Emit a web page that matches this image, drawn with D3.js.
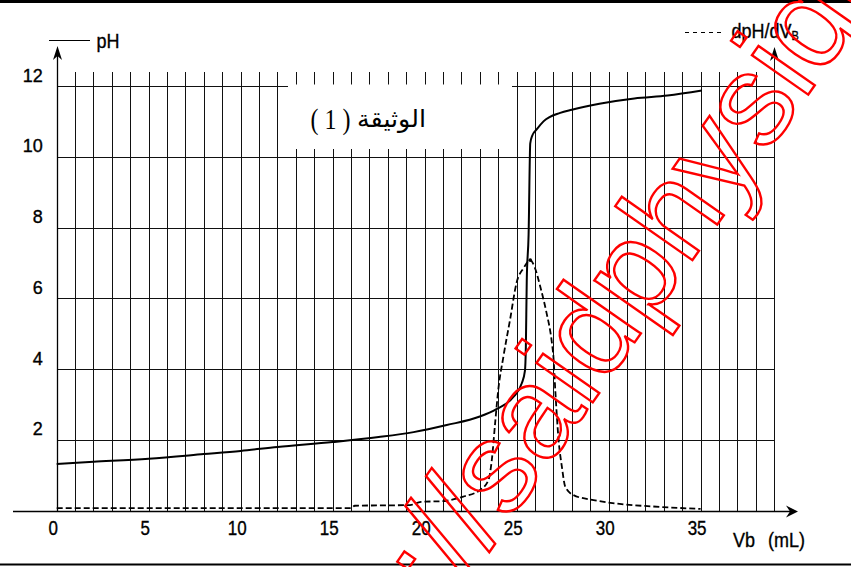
<!DOCTYPE html>
<html>
<head>
<meta charset="utf-8">
<script src="https://cdn.jsdelivr.net/npm/d3@7"></script>
<style>
  html, body { margin: 0; padding: 0; background: #fff; }
  svg { display: block; }
</style>
</head>
<body>
<svg id="chart" width="851" height="567"></svg>
<script>
// Titration of an acid by a base: volume of base added (mL) and measured pH
const phVolume = [0, 2, 5, 8, 10, 12, 15, 17.5, 19.4, 21.2, 23.0, 23.9, 24.8, 25.28, 25.45, 25.5, 25.55, 25.65, 25.74, 25.85, 26.1, 26.46, 27.37, 28.0, 29.5, 31.4, 33.2, 35.07];
const phValue  = [1.32, 1.38, 1.47, 1.6, 1.69, 1.8, 1.94, 2.08, 2.22, 2.42, 2.66, 2.87, 3.2, 3.6, 3.95, 4.6, 6.5, 7.8, 10.38, 10.6, 10.78, 11.0, 11.24, 11.33, 11.5, 11.65, 11.73, 11.87];

// Derivative dpH/dVb, same vertical graduation
const derivVolume = [0, 16.0, 16.2, 19.2, 19.8, 21.0, 22.1, 23.0, 23.47, 23.65, 23.83, 24.0, 24.28, 24.64, 25.0, 25.37, 25.74, 26.0, 26.3, 26.6, 26.92, 27.0, 27.1, 27.28, 27.46, 27.64, 28.09, 29.18, 30.6, 32.4, 35.0];
const derivValue  = [0.07, 0.07, 0.14, 0.16, 0.25, 0.27, 0.4, 0.58, 0.87, 1.43, 2.47, 3.41, 4.35, 5.39, 6.45, 6.85, 7.08, 6.85, 6.3, 5.65, 4.73, 4.35, 3.41, 2.0, 1.24, 0.68, 0.44, 0.3, 0.19, 0.12, 0.05];

const xTickValues = [0, 5, 10, 15, 20, 25, 30, 35];
const yTickValues = [2, 4, 6, 8, 10, 12];
const gridVolumes = d3.range(1, 40);
const gridPH = [2, 4, 6, 8, 10, 12];

const xTitleVar = "Vb";
const xTitleUnit = "(mL)";
const legendPH = "pH";
const legendDeriv = "dpH/dV";
const legendDerivSub = "B";
const docNumber = "( 1 )";
const docWord = "الوثيقة";
const markHead = "http://";
const markTail = "saidphysique";

const svg = d3.select("#chart");
const SANS = "'Liberation Sans', Arial, sans-serif";

const x = d3.scaleLinear().domain([0, 39]).range([56.7, 774.2]);
const y = d3.scaleLinear().domain([0, 12]).range([510.7, 86]);
const px = v => Math.round(x(v)) + 0.5;
const py = v => Math.round(y(v)) + 0.5;

// page rules top and bottom
svg.append("rect").attr("x", 0).attr("y", 0).attr("width", 851).attr("height", 3).attr("fill", "#000");
svg.append("rect").attr("x", 0).attr("y", 563.5).attr("width", 851).attr("height", 2).attr("fill", "#000");

// millimetric-style grid
const grid = svg.append("g").attr("stroke", "#111").attr("stroke-width", 1);
grid.selectAll("line.v").data(gridVolumes).join("line")
  .attr("x1", d => px(d)).attr("x2", d => px(d))
  .attr("y1", d => d === 39 ? 52 : 72).attr("y2", py(0));
grid.selectAll("line.h").data(gridPH).join("line")
  .attr("x1", px(0)).attr("x2", px(39))
  .attr("y1", d => py(d)).attr("y2", d => py(d));

// label panel on the grid
svg.append("rect").attr("x", 288).attr("y", 84.5).attr("width", 224).attr("height", 64.5).attr("fill", "#fff");

// axes lines and arrows
svg.append("line").attr("x1", px(0)).attr("x2", px(0)).attr("y1", 52).attr("y2", py(0))
  .attr("stroke", "#000").attr("stroke-width", 1.3);
svg.append("line").attr("x1", 13).attr("x2", 792).attr("y1", py(0)).attr("y2", py(0))
  .attr("stroke", "#000").attr("stroke-width", 1.3);
function arrowUp(cx, tip) {
  svg.append("path").attr("d", `M${cx},${tip} L${cx + 4.5},${tip + 14} L${cx},${tip + 10} L${cx - 4.5},${tip + 14} Z`).attr("fill", "#000");
}
arrowUp(px(0), 46);
arrowUp(px(39), 47);
const ax0 = py(0);
svg.append("path").attr("d", `M798,${ax0} L786,${ax0 - 6} L790,${ax0} L786,${ax0 + 6} Z`).attr("fill", "#000");

// curves
const line = d3.line().x(d => x(d[0])).y(d => y(d[1])).curve(d3.curveMonotoneX);
svg.append("path").datum(derivVolume.map((v, i) => [v, derivValue[i]]))
  .attr("d", line).attr("fill", "none").attr("stroke", "#000").attr("stroke-width", 1.8)
  .attr("stroke-dasharray", "6,3");
svg.append("path").datum(phVolume.map((v, i) => [v, phValue[i]]))
  .attr("d", line).attr("fill", "none").attr("stroke", "#000").attr("stroke-width", 2);
svg.append("circle").attr("cx", x(25.74)).attr("cy", y(7.08)).attr("r", 1.8).attr("fill", "#000");

// tick labels
const gy = svg.append("g").attr("transform", `translate(${x(0)},0)`)
  .call(d3.axisLeft(y).tickValues(yTickValues).tickSize(0).tickPadding(14));
gy.select(".domain").remove();
gy.attr("font-family", SANS).attr("font-size", 18);
gy.selectAll("text").attr("fill", "#000").attr("stroke", "#000").attr("stroke-width", 0.35)
  .attr("dy", null).attr("y", -5);

const gx = svg.append("g").attr("transform", `translate(-4,${y(0)})`)
  .call(d3.axisBottom(x).tickValues(xTickValues).tickSize(0).tickPadding(0));
gx.select(".domain").remove();
gx.attr("font-family", SANS).attr("font-size", 17);
gx.selectAll("text").attr("fill", "#000").attr("stroke", "#000").attr("stroke-width", 0.3)
  .attr("y", null).attr("dy", null)
  .attr("transform", "translate(0,24) scale(1,1.18)");

function stretched(tx, ty, sy, str, size, anchor) {
  return svg.append("text").attr("transform", `translate(${tx},${ty}) scale(1,${sy})`)
    .attr("font-family", SANS).attr("font-size", size).attr("text-anchor", anchor || "start")
    .attr("fill", "#000").attr("stroke", "#000").attr("stroke-width", 0.3).text(str);
}
stretched(733, 547, 1.15, xTitleVar, 18);
stretched(768, 547, 1.15, xTitleUnit, 18);

// legends
svg.append("line").attr("x1", 49).attr("x2", 90).attr("y1", 40.5).attr("y2", 40.5)
  .attr("stroke", "#000").attr("stroke-width", 1.2);
stretched(96.5, 48, 1.15, legendPH, 18);
svg.append("line").attr("x1", 685).attr("x2", 724).attr("y1", 32.5).attr("y2", 32.5)
  .attr("stroke", "#000").attr("stroke-width", 1.2).attr("stroke-dasharray", "4,4");
const dl = stretched(731.5, 37.5, 1.08, legendDeriv, 18);
dl.append("tspan").attr("font-size", 11).attr("dy", 2.5).text(legendDerivSub);

// document label
svg.append("text").attr("transform", "translate(310.5,129) scale(1,1.25)")
  .attr("font-family", "'Liberation Serif', 'Times New Roman', serif").attr("font-size", 24)
  .attr("fill", "#000").text(docNumber);
const word = svg.append("text")
  .attr("font-family", "'DejaVu Sans', sans-serif").attr("font-size", 20)
  .attr("fill", "#000").text(docWord);
const wb = word.node().getBBox();
word.attr("transform", `translate(${357 - wb.x * 69 / wb.width},127) scale(${69 / wb.width},1.2)`);

// watermark
const mark = svg.append("g").attr("transform", "translate(509,522) rotate(-55)")
  .attr("font-family", SANS).attr("font-size", 130)
  .attr("fill", "none").attr("stroke", "#ff0000").attr("stroke-width", 2.4);
mark.append("text").attr("text-anchor", "start").text(markTail);
mark.append("text").attr("text-anchor", "end").text(markHead);
</script>
</body>
</html>
